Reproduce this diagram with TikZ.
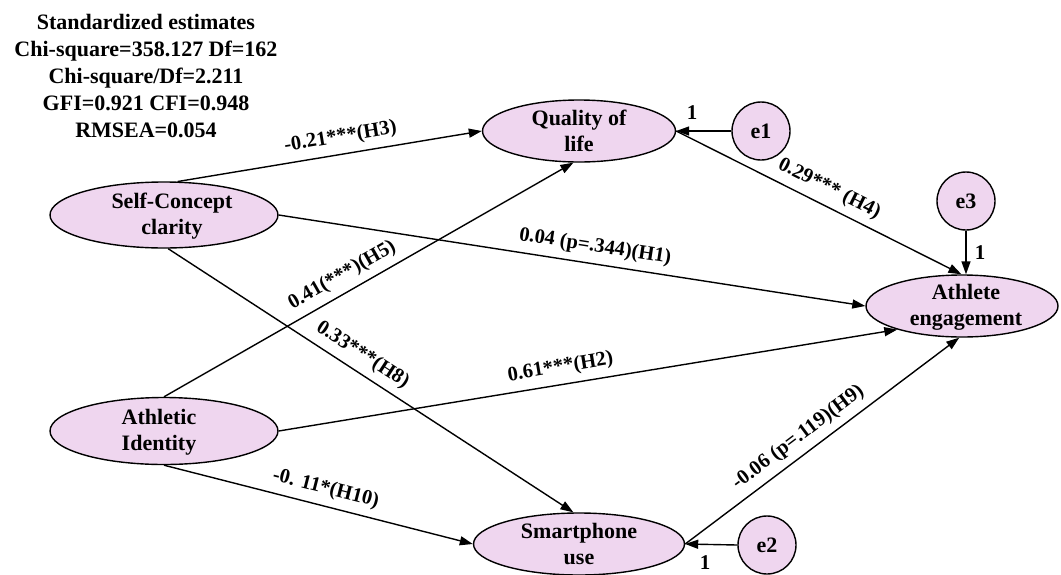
\documentclass[tikz,border=0pt]{standalone}
\usepackage{fontspec}
\setmainfont{Liberation Serif}
\usetikzlibrary{shapes.geometric,arrows.meta}
\definecolor{pinkfill}{RGB}{239,214,239}
\begin{document}
\begin{tikzpicture}[x=1pt,y=-1pt,
  lat/.style={ellipse,draw,line width=1.4pt,fill=pinkfill,inner sep=0pt},
  lattext/.style={align=center,inner sep=0pt,font=\fontsize{22}{26}\selectfont\bfseries},
  err/.style={circle,draw,line width=1.4pt,fill=pinkfill,inner sep=0pt,minimum size=58pt,font=\fontsize{22}{26}\selectfont\bfseries},
  conn/.style={line width=1.4pt,-{Triangle[length=13pt,width=9pt]}},
  lbl/.style={sloped,above=7pt,inner sep=0pt,font=\fontsize{20.5}{24}\selectfont\bfseries},
  one/.style={inner sep=0pt,font=\fontsize{21}{24}\selectfont\bfseries},
  hdr/.style={align=center,inner sep=0pt,font=\fontsize{22}{27}\selectfont\bfseries}]
\useasboundingbox (0,0) rectangle (1061,574);

\node[hdr,anchor=north] (head) at (146,14) {Standardized estimates\\Chi-square=358.127 Df=162\\Chi-square/Df=2.211\\GFI=0.921 CFI=0.948\\RMSEA=0.054};

\node[lat,minimum width=228pt,minimum height=66pt] (scc) at (164,215) {};
\node[lattext] (scct) at (172,216) {Self-Concept\\clarity};
\node[lat,minimum width=228pt,minimum height=67pt] (ai) at (164,431) {};
\node[lattext] (ait) at (159,432) {Athletic\\Identity};
\node[lat,minimum width=193pt,minimum height=62pt] (qol) at (579,131) {};
\node[lattext] (qolt) at (qol) {Quality of\\life};
\node[lat,minimum width=192pt,minimum height=62pt] (ae) at (962,306) {};
\node[lattext] (aet) at (966,307) {Athlete\\engagement};
\node[lat,minimum width=211pt,minimum height=62pt] (su) at (579,544) {};
\node[lattext] (sut) at (su) {Smartphone\\use};

\node[err] (e1) at (761,131) {e1};
\node[err] (e2) at (767,545) {e2};
\node[err] (e3) at (966,201) {e3};

\draw[conn] (scc.68) -- (qol.west) node[lbl,pos=0.545] (lh3) {-0.21***(H3)};
\draw[conn] (scc.east) -- (ae.west) node[lbl,pos=0.535] (lh1) {0.04 (p=.344)(H1)};
\draw[conn] (scc.-83) -- (su.100) node[lbl,pos=0.457] (lh8) {0.33***(H8)};
\draw[conn] (ai.north) -- (qol.-100) node[lbl,pos=0.456] (lh5) {0.41(***)(H5)};
\draw[conn] (ai.east) -- (ae.200) node[lbl,pos=0.46] (lh2) {0.61***(H2)};
\draw[conn] (ai.south) -- (su.west) node[lbl,pos=0.51] (lh10) {-0. 11*(H10)};
\draw[conn] (qol.east) -- (ae.91) node[lbl,pos=0.51] (lh4) {0.29*** (H4)};
\draw[conn] (su.east) -- (ae.-95) node[lbl,pos=0.45] (lh9) {-0.06 (p=.119)(H9)};

\draw[conn] (e1.west) -- (qol.east);
\draw[conn] (e2.west) -- (su.east);
\draw[conn] (e3.south) -- (e3.south |- ae.north);

\node[one] (one1) at (692,113) {1};
\node[one] (one2) at (705,563) {1};
\node[one] (one3) at (980,253) {1};
\end{tikzpicture}
\end{document}
